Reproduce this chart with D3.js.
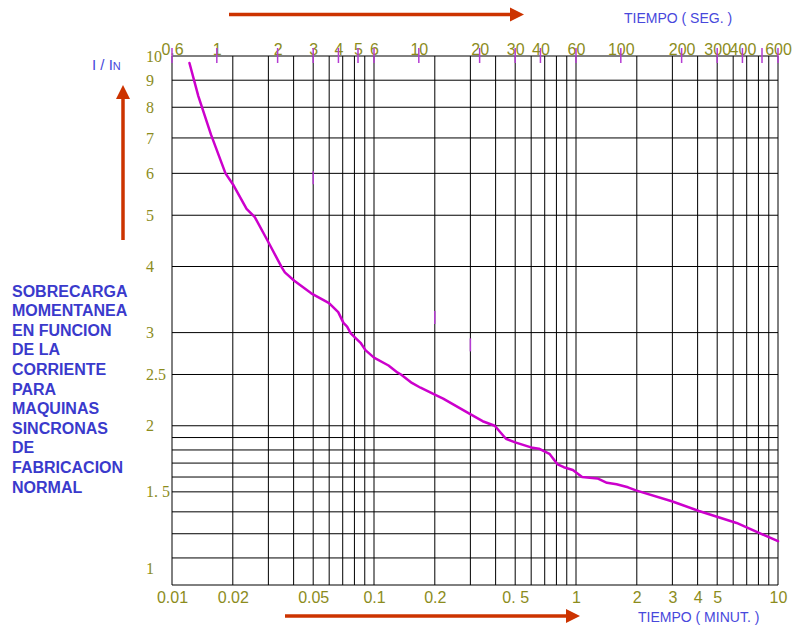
<!DOCTYPE html>
<html>
<head>
<meta charset="utf-8">
<script src="https://cdn.jsdelivr.net/npm/d3@7"></script>
<style>
  body { margin: 0; background: #fff; }
  svg { display: block; }
  .grid line { stroke: #000; stroke-width: 1; }
  .olive { fill: #8c8c1c; }
  .blue-label { fill: #4848dc; font-family: "Liberation Sans", Arial, sans-serif; font-size: 14px; }
  .side-text { fill: #3a3acc; font-family: "Liberation Sans", Arial, sans-serif; font-size: 16px; font-weight: bold; }
</style>
</head>
<body>
<div id="wrapper"></div>
<script>
// curve: time in minutes, overload ratio I / In
const curveMinutes = [0.0122, 0.0135, 0.0156, 0.0184, 0.0202, 0.0234, 0.0257, 0.0297, 0.035, 0.0362,
  0.0403, 0.0489, 0.0599, 0.0665, 0.0706, 0.0736, 0.0767, 0.0858, 0.0907, 0.1,
  0.118, 0.131, 0.136, 0.154, 0.170, 0.2, 0.220, 0.295, 0.345, 0.396,
  0.450, 0.5, 0.599, 0.655, 0.739, 0.811, 0.870, 0.965, 1.072, 1.277,
  1.423, 1.587, 1.809, 1.98, 2.98, 4.06, 6.24, 10]
const curveRatio = [9.7, 8.4, 7.1, 6.0, 5.69, 5.14, 4.96, 4.48, 3.98, 3.90,
  3.76, 3.56, 3.41, 3.28, 3.13, 3.08, 2.99, 2.87, 2.78, 2.69,
  2.60, 2.52, 2.50, 2.41, 2.36, 2.29, 2.25, 2.11, 2.04, 2.0,
  1.89, 1.86, 1.82, 1.81, 1.77, 1.69, 1.67, 1.65, 1.60, 1.59,
  1.56, 1.55, 1.53, 1.51, 1.44, 1.38, 1.31, 1.21]

// grid of the paper
const gridMinutes = [0.01, 0.02, 0.03, 0.04, 0.05, 0.06, 0.07, 0.08, 0.09,
  0.1, 0.2, 0.3, 0.4, 0.5, 0.6, 0.7, 0.8, 0.9,
  1, 2, 3, 4, 5, 6, 7, 8, 9, 10]
const gridRatio = [1, 1.125, 1.25, 1.375, 1.5, 1.6, 1.7, 1.8, 1.9, 2, 2.5, 3, 4, 5, 6, 7, 8, 9, 10]

// tick labels
const minuteTicks = [0.01, 0.02, 0.05, 0.1, 0.2, 0.5, 1, 2, 3, 4, 5, 10]
const minuteLabels = ["0.01", "0.02", "0.05", "0.1", "0.2", "0. 5", "1", "2", "3", "4", "5", "10"]
const secondTicks = [0.6, 1, 2, 3, 4, 5, 6, 10, 20, 30, 40, 60, 100, 200, 300, 400, 500, 600]
const secondLabels = ["0.6", "1", "2", "3", "4", "5", "6", "10", "20", "30", "40", "60", "100", "200", "300", "400", "", "600"]
const ratioTicks = [1, 1.5, 2, 2.5, 3, 4, 5, 6, 7, 8, 9, 10]
const ratioLabels = ["1", "1. 5", "2", "2.5", "3", "4", "5", "6", "7", "8", "9", "10"]

// small stray purple marks on the paper
const strayMinutes = [0.05, 0.2, 0.3]
const strayRatio = [5.9, 3.21, 2.85]

const sideText = ["SOBRECARGA", "MOMENTANEA", "EN FUNCION", "DE LA", "CORRIENTE", "PARA",
  "MAQUINAS", "SINCRONAS", "DE", "FABRICACION", "NORMAL"]

function drawChart() {
  let dimensions = {
    width: 794,
    height: 627,
    margin: { top: 56, right: 16, bottom: 42, left: 172 },
  }
  dimensions.boundedWidth = dimensions.width - dimensions.margin.left - dimensions.margin.right
  dimensions.boundedHeight = dimensions.height - dimensions.margin.top - dimensions.margin.bottom

  const wrapper = d3.select("#wrapper")
    .append("svg")
      .attr("width", dimensions.width)
      .attr("height", dimensions.height)

  const bounds = wrapper.append("g")
      .attr("transform", `translate(${dimensions.margin.left}, ${dimensions.margin.top})`)

  // scales
  const xScale = d3.scaleLog()
    .domain([0.01, 10])
    .range([0, dimensions.boundedWidth])
  const secScale = d3.scaleLog()
    .domain([0.6, 600])
    .range([0, dimensions.boundedWidth])
  const yScale = d3.scaleLog()
    .domain([1, 10])
    .range([dimensions.boundedHeight, 0])

  // grid
  const grid = bounds.append("g").attr("class", "grid")
  grid.selectAll(".v")
    .data(gridMinutes)
    .join("line")
      .attr("class", "v")
      .attr("x1", d => xScale(d))
      .attr("x2", d => xScale(d))
      .attr("y1", 0)
      .attr("y2", dimensions.boundedHeight)
  grid.selectAll(".h")
    .data(gridRatio)
    .join("line")
      .attr("class", "h")
      .attr("x1", 0)
      .attr("x2", dimensions.boundedWidth)
      .attr("y1", d => yScale(d))
      .attr("y2", d => yScale(d))

  // bottom labels (minutes)
  const xAxisGenerator = d3.axisBottom(xScale)
    .tickValues(minuteTicks)
    .tickFormat((d, i) => minuteLabels[i])
    .tickSize(0)
    .tickPadding(7)
  const xAxis = bounds.append("g")
      .attr("transform", `translate(0, ${dimensions.boundedHeight})`)
      .call(xAxisGenerator)
  xAxis.select(".domain").remove()
  xAxis.selectAll("text")
      .attr("class", "olive")
      .attr("fill", null)
      .style("font-family", "'Liberation Sans', Arial, sans-serif")
      .style("font-size", "16px")

  // top labels (seconds)
  const secAxisGenerator = d3.axisTop(secScale)
    .tickValues(secondTicks)
    .tickFormat((d, i) => secondLabels[i])
    .tickSize(0)
    .tickPadding(1.5)
  const secAxis = bounds.append("g")
      .call(secAxisGenerator)
  secAxis.select(".domain").remove()
  secAxis.selectAll("text")
      .attr("class", "olive")
      .attr("fill", null)
      .style("font-family", "'Liberation Sans', Arial, sans-serif")
      .style("font-size", "16px")

  // purple marks across the top edge
  bounds.selectAll(".sec-tick")
    .data(secondTicks)
    .join("line")
      .attr("class", "sec-tick")
      .attr("x1", d => secScale(d))
      .attr("x2", d => secScale(d))
      .attr("y1", -8)
      .attr("y2", 7)
      .attr("stroke", "#b43cd2")
      .attr("stroke-width", 1.5)

  bounds.selectAll(".stray")
    .data(strayMinutes)
    .join("line")
      .attr("class", "stray")
      .attr("x1", d => xScale(d))
      .attr("x2", d => xScale(d))
      .attr("y1", (d, i) => yScale(strayRatio[i]) - 6)
      .attr("y2", (d, i) => yScale(strayRatio[i]) + 7)
      .attr("stroke", "#b43cd2")
      .attr("stroke-width", 1.5)

  // left labels (I / In)
  bounds.selectAll(".ratio-label")
    .data(ratioTicks)
    .join("text")
      .attr("class", "ratio-label olive")
      .attr("x", -26)
      .attr("y", d => d === 1 ? yScale(d) - 17 : yScale(d))
      .attr("dy", "0.35em")
      .style("font-family", "'Liberation Serif', 'Times New Roman', serif")
      .style("font-size", "16px")
      .text((d, i) => ratioLabels[i])

  // the curve
  const curveData = curveMinutes.map((m, i) => ({ m: m, r: curveRatio[i] }))
  const lineGenerator = d3.line()
    .x(d => xScale(d.m))
    .y(d => yScale(d.r))
  bounds.append("path")
      .attr("d", lineGenerator(curveData))
      .attr("fill", "none")
      .attr("stroke", "#cc00cc")
      .attr("stroke-width", 2.5)
      .attr("stroke-linejoin", "round")
      .attr("stroke-linecap", "round")

  // arrows
  const arrowColor = "#cc3300"
  function arrowRight(x1, x2, y) {
    wrapper.append("line")
        .attr("x1", x1).attr("x2", x2 - 12)
        .attr("y1", y).attr("y2", y)
        .attr("stroke", arrowColor).attr("stroke-width", 3.5)
    wrapper.append("path")
        .attr("d", `M${x2 - 14},${y - 7}L${x2},${y}L${x2 - 14},${y + 7}Z`)
        .attr("fill", arrowColor)
  }
  arrowRight(229, 524, 14.5)
  arrowRight(285, 580, 616)

  wrapper.append("line")
      .attr("x1", 123).attr("x2", 123)
      .attr("y1", 240).attr("y2", 97)
      .attr("stroke", arrowColor).attr("stroke-width", 3.5)
  wrapper.append("path")
      .attr("d", "M116,99L123,85L130,99Z")
      .attr("fill", arrowColor)

  // axis titles
  wrapper.append("text")
      .attr("class", "blue-label")
      .attr("x", 624)
      .attr("y", 23)
      .text("TIEMPO ( SEG. )")
  wrapper.append("text")
      .attr("class", "blue-label")
      .attr("x", 638)
      .attr("y", 622)
      .text("TIEMPO ( MINUT. )")

  const ratioTitle = wrapper.append("text")
      .attr("class", "blue-label")
      .attr("x", 92)
      .attr("y", 70)
      .style("font-size", "15px")
  ratioTitle.append("tspan").text("I / I")
  ratioTitle.append("tspan").style("font-size", "11px").text("N")

  // description block on the left
  wrapper.append("g")
    .selectAll("text")
    .data(sideText)
    .join("text")
      .attr("class", "side-text")
      .attr("x", 12)
      .attr("y", (d, i) => 296.5 + i * 19.6)
      .text(d => d)
}
drawChart()
</script>
</body>
</html>
